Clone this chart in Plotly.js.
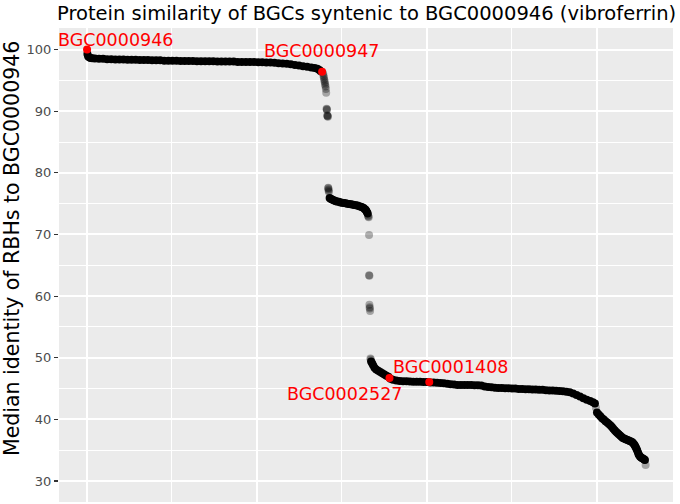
<!DOCTYPE html>
<html>
<head>
<meta charset="utf-8">
<script src="https://cdn.plot.ly/plotly-3.0.1.min.js"></script>
<style>html,body{margin:0;padding:0;background:#fff;}#chart{width:680px;height:504px;}</style>
</head>
<body>
<div id="chart"></div>
<script>
// Ranked BGCs: rank (x) and median identity of RBHs (y)
const denseRank = [
  2,4,7,11,16,24,36,48,60,72,84,96,108,120,132,144,156,168,180,192,204,216,228,240,252,264,276,288,300,312,
  324,336,348,360,372,384,396,408,420,432,444,456,468,480,492,504,516,528,540,552,564,576,588,600,612,624,636,648,660,670,678,684,688,
  714,717,720,724,728,732,736,741,746,751,756,761,766,771,776,781,786,791,796,801,806,810,814,817,820,822,824,826,
  836,839,842,846,851,857,863,869,875,881,887,893,900,
  910,920,930,940,950,960,970,980,990,1000,1010,1020,1030,1040,1050,1060,1070,1080,1090,1100,
  1110,1120,1130,1140,1150,1160,1170,1180,1190,1200,1210,1220,1230,1240,1250,1260,1270,1280,1290,1300,
  1310,1320,1330,1340,1350,1360,1370,1380,1390,1400,1410,1420,1430,1440,1450,1460,1470,1480,1488,1494,
  1500,1505,1510,1515,1520,1525,1530,1535,1540,1544,1548,1552,1556,1560,1564,1568,1572,1576,1580,1584,1588,1592,1596,1600,1604,
  1607,1610,1612,1614,1616,1618,1620,1622,1624,1627,1630,1633,1636,1639,1641
];
const denseIdentity = [
  99.3,98.9,98.75,98.65,98.6,98.55,98.5,98.5,98.45,98.45,98.4,98.4,98.4,98.35,98.35,98.35,98.3,98.3,98.3,98.25,98.25,98.25,98.2,98.2,98.2,98.2,98.15,98.15,98.15,98.15,
  98.1,98.1,98.1,98.1,98.1,98.05,98.05,98.05,98.05,98.05,98.0,98.0,98.0,98.0,98.0,97.95,97.95,97.9,97.9,97.85,97.8,97.75,97.7,97.6,97.5,97.4,97.3,97.2,97.1,97.0,96.9,96.7,96.5,
  75.9,75.8,75.7,75.6,75.5,75.4,75.35,75.3,75.2,75.15,75.1,75.05,75.0,74.95,74.9,74.85,74.8,74.75,74.7,74.6,74.5,74.4,74.3,74.15,74.0,73.8,73.6,73.4,
  49.4,49.1,48.8,48.4,48.1,47.9,47.7,47.5,47.3,47.1,46.9,46.6,46.45,
  46.3,46.25,46.2,46.2,46.15,46.1,46.1,46.1,46.05,46.05,46.0,46.0,45.95,45.9,45.85,45.8,45.7,45.65,45.6,45.6,
  45.6,45.6,45.6,45.55,45.55,45.5,45.35,45.25,45.2,45.15,45.1,45.1,45.05,45.05,45.0,45.0,44.95,44.95,44.9,44.9,
  44.85,44.85,44.8,44.8,44.75,44.7,44.7,44.65,44.6,44.55,44.5,44.4,44.2,43.95,43.7,43.45,43.2,43.0,42.8,42.6,
  41.1,40.8,40.5,40.2,40.0,39.7,39.5,39.25,39.0,38.75,38.5,38.25,38.0,37.8,37.6,37.4,37.2,37.0,36.9,36.8,36.7,36.6,36.5,36.4,36.3,
  36.1,35.9,35.7,35.5,35.25,35.0,34.7,34.4,34.2,33.95,33.8,33.7,33.6,33.5,33.4
];
// Isolated BGCs in the steep drops (drawn semi-transparent)
const sparseRank = [695,696,697,698,699,700,701,702,703,704,705,706,706,707,708,708,709,710,710,711,711,712,827,828,829,830,830,831,831,832,832,833,834,835,1497,1643];
const sparseIdentity = [96.1,95.8,95.5,95.2,94.9,94.6,94.3,94.0,93.6,93.0,90.4,90.3,90.2,89.3,89.25,89.2,89.1,77.6,77.5,77.3,77.1,76.9,73.1,72.9,72.8,69.9,63.4,63.3,58.6,58.2,58.0,57.6,49.9,49.7,41.9,32.6];
// Highlighted BGCs
const hlName = ['BGC0000946','BGC0000947','BGC0002527','BGC0001408'];
const hlRank = [1, 692, 890, 1007];
const hlIdentity = [100, 96.4, 46.7, 46.05];

const titleText = 'Protein similarity of BGCs syntenic to BGC0000946 (vibroferrin)';
const yTitleText = 'Median identity of RBHs to BGC0000946';

const FONT = 'DejaVu Sans, Verdana, sans-serif';
const labelShift = {BGC0000946:[28,10], BGC0000947:[-1,21], BGC0002527:[-44.5,-16], BGC0001408:[21.5,15.5]};

const traces = [
  {x: denseRank, y: denseIdentity, type:'scatter', mode:'markers', hoverinfo:'skip',
   marker:{color:'#000000', size:8, line:{width:0}}},
  {x: sparseRank, y: sparseIdentity, type:'scatter', mode:'markers', hoverinfo:'skip',
   marker:{color:'rgba(0,0,0,0.3)', size:8, line:{width:0}}},
  {x: hlRank, y: hlIdentity, type:'scatter', mode:'markers', text: hlName,
   marker:{color:'#ff0000', size:8, line:{width:0}}}
];

const annotations = hlName.map((n,i)=>({
  x: hlRank[i], y: hlIdentity[i], xref:'x', yref:'y', text:n, showarrow:false,
  xshift: labelShift[n][0], yshift: labelShift[n][1],
  font:{family:FONT, size:17.5, color:'#ff0000'}
}));
// y-axis title (placed as rotated text beside the axis)
annotations.push({
  text: yTitleText, textangle:-90, showarrow:false,
  xref:'paper', yref:'paper', x:(12-59)/614, y:(502-249)/474, xanchor:'center', yanchor:'middle',
  font:{family:FONT, size:20.5, color:'#000000'}
});

const layout = {
  width:680, height:504,
  margin:{l:59, r:7, t:28, b:2, pad:0},
  paper_bgcolor:'#ffffff', plot_bgcolor:'#ebebeb',
  showlegend:false,
  font:{family:FONT},
  title:{text:titleText,
         x:57/680, xanchor:'left', xref:'container', y:1-13/504, yanchor:'middle', yref:'container',
         font:{family:FONT, size:19.5, color:'#000000'}},
  xaxis:{range:[-81.5,1723.5], showticklabels:false, ticks:'', zeroline:false, showline:false,
         tick0:0, dtick:500, showgrid:true, gridcolor:'#ffffff', gridwidth:2,
         minor:{dtick:250, tick0:0, showgrid:true, gridcolor:'#ffffff', gridwidth:1}},
  yaxis:{range:[26.6,103.5], tick0:0, dtick:10, ticks:'outside', ticklen:4, tickwidth:1.2, tickcolor:'#333333',
         tickfont:{family:FONT, size:13, color:'#4d4d4d'},
         zeroline:false, showline:false, showgrid:true, gridcolor:'#ffffff', gridwidth:2,
         minor:{dtick:5, tick0:0, showgrid:true, gridcolor:'#ffffff', gridwidth:1},
         automargin:false},
  annotations: annotations
};

Plotly.newPlot('chart', traces, layout, {staticPlot:true, displayModeBar:false});
</script>
</body>
</html>
